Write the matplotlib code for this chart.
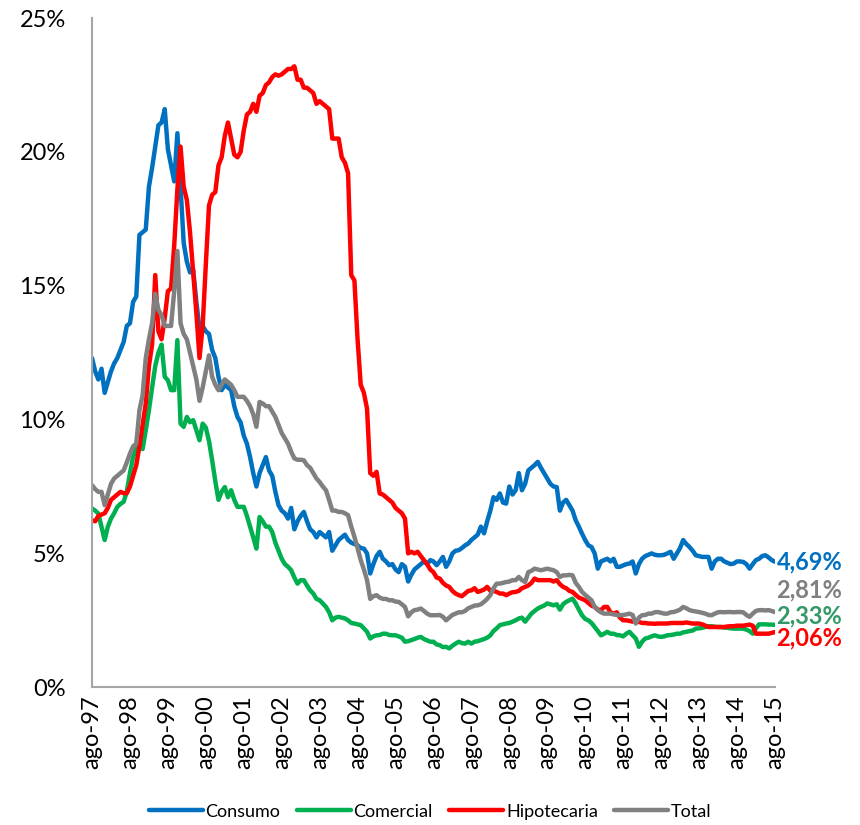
import numpy as np
import matplotlib
matplotlib.use("Agg")
import matplotlib.pyplot as plt

plt.rcParams['font.family'] = ['Lato', 'DejaVu Sans']

# monthly series, ago-97 .. ago-15 (one row per year, starting in August)
consumo = [
    12.3, 11.8, 11.5, 11.9, 11.0, 11.4, 11.8, 12.1, 12.3, 12.6, 12.9, 13.5,
    13.6, 14.4, 14.6, 16.9, 17.0, 17.1, 18.7, 19.4, 20.2, 21.0, 21.1, 21.6,
    20.1, 19.5, 18.9, 20.7, 18.7, 16.6, 15.9, 15.5, 15.6, 14.4, 13.4, 13.5,
    13.3, 13.2, 12.6, 12.3, 11.6, 11.1, 11.3, 11.2, 11.1, 10.5, 10.1, 9.9,
    9.4, 9.1, 8.6, 8.0, 7.5, 8.0, 8.3, 8.6, 8.1, 7.9, 7.3, 6.8,
    6.6, 6.5, 6.3, 6.7, 5.9, 6.2, 6.4, 6.55, 6.2, 5.9, 5.8, 5.6,
    5.8, 5.7, 5.6, 5.8, 5.1, 5.3, 5.5, 5.6, 5.7, 5.5, 5.4, 5.35,
    5.3, 5.2, 5.18, 5.0, 4.25, 4.6, 4.9, 5.06, 4.8, 4.7, 4.56, 4.6,
    4.4, 4.3, 4.6, 4.5, 3.95, 4.2, 4.4, 4.5, 4.6, 4.7, 4.6, 4.75,
    4.7, 4.56, 4.7, 4.87, 4.5, 4.7, 5.0, 5.1, 5.12, 5.2, 5.3, 5.37,
    5.5, 5.6, 5.7, 6.0, 5.75, 6.2, 6.6, 7.1, 7.0, 7.24, 6.9, 6.86,
    7.5, 7.2, 7.36, 8.0, 7.36, 7.6, 8.1, 8.2, 8.3, 8.42, 8.2, 8.0,
    7.8, 7.6, 7.5, 7.48, 6.6, 6.9, 7.0, 6.8, 6.6, 6.24, 6.0, 5.74,
    5.5, 5.3, 5.24, 5.0, 4.43, 4.7, 4.75, 4.8, 4.7, 4.8, 4.5, 4.5,
    4.55, 4.6, 4.62, 4.7, 4.25, 4.6, 4.8, 4.9, 4.95, 5.0, 4.95, 4.93,
    4.93, 4.95, 5.0, 5.06, 4.8, 5.0, 5.2, 5.5, 5.35, 5.24, 5.1, 4.93,
    4.9, 4.87, 4.87, 4.87, 4.43, 4.7, 4.8, 4.8, 4.7, 4.65, 4.6, 4.62,
    4.7, 4.7, 4.68, 4.6, 4.43, 4.6, 4.75, 4.8, 4.9, 4.93, 4.85, 4.75,
    4.69,
]

comercial = [
    6.68, 6.6, 6.49, 6.0, 5.5, 6.0, 6.3, 6.5, 6.74, 6.85, 6.93, 7.3,
    8.0, 8.6, 8.9, 9.0, 8.9, 9.6, 10.35, 11.2, 12.0, 12.5, 12.8, 11.6,
    11.47, 11.1, 11.1, 12.97, 9.85, 9.73, 10.1, 9.9, 9.98, 9.6, 9.23, 9.85,
    9.7, 9.2, 8.48, 7.7, 7.0, 7.3, 7.48, 7.1, 7.36, 7.0, 6.74, 6.74,
    6.74, 6.4, 6.0, 5.6, 5.18, 6.36, 6.2, 6.0, 6.0, 5.8, 5.4, 5.1,
    4.8, 4.6, 4.5, 4.37, 4.1, 3.87, 4.0, 4.0, 3.8, 3.62, 3.5, 3.3,
    3.25, 3.13, 3.0, 2.8, 2.5, 2.6, 2.63, 2.6, 2.57, 2.5, 2.4, 2.38,
    2.35, 2.32, 2.2, 2.07, 1.82, 1.9, 1.94, 1.95, 2.0, 2.0, 1.95, 1.94,
    1.94, 1.9, 1.85, 1.7, 1.72, 1.76, 1.8, 1.85, 1.88, 1.8, 1.75, 1.7,
    1.7, 1.6, 1.57, 1.5, 1.51, 1.45, 1.55, 1.63, 1.7, 1.65, 1.63, 1.7,
    1.63, 1.7, 1.72, 1.76, 1.8, 1.85, 1.94, 2.1, 2.2, 2.32, 2.35, 2.38,
    2.4, 2.45, 2.5, 2.57, 2.6, 2.45, 2.6, 2.75, 2.85, 2.94, 3.0, 3.05,
    3.13, 3.1, 3.06, 3.1, 2.9, 3.1, 3.19, 3.25, 3.31, 3.13, 2.9, 2.69,
    2.55, 2.5, 2.4, 2.25, 2.1, 1.94, 2.0, 2.07, 2.0, 2.0, 1.95, 1.94,
    1.9, 2.0, 2.07, 1.94, 1.82, 1.51, 1.7, 1.82, 1.85, 1.9, 1.94, 1.9,
    1.88, 1.9, 1.94, 1.95, 1.97, 2.0, 2.0, 2.05, 2.07, 2.1, 2.12, 2.19,
    2.2, 2.22, 2.25, 2.28, 2.28, 2.26, 2.25, 2.25, 2.23, 2.22, 2.2, 2.19,
    2.19, 2.19, 2.19, 2.15, 2.1, 2.0, 2.2, 2.35, 2.35, 2.35, 2.34, 2.34,
    2.33,
]

hipotecaria = [
    6.24, 6.2, 6.4, 6.45, 6.5, 6.7, 7.0, 7.1, 7.2, 7.3, 7.25, 7.25,
    7.5, 7.9, 8.3, 9.0, 9.8, 10.6, 12.0, 12.8, 15.4, 13.3, 13.0, 13.8,
    14.8, 14.9, 16.5, 18.6, 20.2, 18.7, 18.2, 17.0, 15.5, 14.0, 12.3, 13.5,
    15.8, 18.0, 18.4, 18.5, 19.5, 19.8, 20.6, 21.1, 20.5, 19.9, 19.8, 20.0,
    20.8, 21.4, 21.5, 21.8, 21.5, 22.1, 22.2, 22.5, 22.6, 22.8, 22.9, 22.85,
    22.9, 23.0, 23.1, 23.1, 23.2, 22.7, 22.7, 22.4, 22.4, 22.3, 22.2, 21.8,
    21.9, 21.8, 21.7, 21.6, 20.5, 20.5, 20.5, 19.8, 19.6, 19.2, 15.4, 15.2,
    13.0, 11.3, 11.0, 10.4, 8.0, 7.9, 8.05, 7.24, 7.2, 7.1, 7.0, 6.9,
    6.7, 6.6, 6.5, 6.3, 5.0, 5.06, 5.0, 5.06, 4.9, 4.75, 4.6, 4.4,
    4.3, 4.1, 4.06, 3.9, 3.8, 3.75, 3.6, 3.5, 3.44, 3.4, 3.5, 3.6,
    3.62, 3.7, 3.56, 3.6, 3.65, 3.75, 3.6, 3.6, 3.56, 3.5, 3.5, 3.44,
    3.5, 3.55, 3.56, 3.6, 3.7, 3.75, 3.8, 3.9, 4.06, 4.0, 4.0, 4.0,
    4.0, 4.0, 3.95, 4.0, 3.85, 3.75, 3.7, 3.6, 3.56, 3.45, 3.35, 3.3,
    3.25, 3.15, 3.05, 3.0, 2.9, 2.88, 3.0, 3.0, 2.8, 2.75, 2.8, 2.6,
    2.5, 2.5, 2.48, 2.45, 2.5, 2.44, 2.4, 2.4, 2.38, 2.38, 2.37, 2.38,
    2.38, 2.38, 2.38, 2.4, 2.4, 2.4, 2.4, 2.4, 2.42, 2.4, 2.38, 2.38,
    2.38, 2.35, 2.3, 2.25, 2.25, 2.25, 2.25, 2.25, 2.25, 2.27, 2.28, 2.28,
    2.3, 2.3, 2.3, 2.32, 2.34, 2.3, 2.0, 2.0, 2.0, 2.0, 2.0, 2.03,
    2.06,
]

total = [
    7.55, 7.4, 7.3, 7.3, 6.8, 7.2, 7.6, 7.8, 7.9, 8.0, 8.1, 8.4,
    8.73, 9.0, 9.1, 10.35, 10.9, 12.3, 13.0, 13.6, 14.7, 14.1, 13.9, 13.5,
    13.5, 13.5, 14.8, 16.3, 13.6, 13.2, 13.0, 12.5, 12.0, 11.5, 10.7, 11.2,
    11.8, 12.4, 11.6, 11.3, 11.1, 11.3, 11.5, 11.4, 11.3, 11.1, 10.85, 10.85,
    10.85, 10.7, 10.5, 10.2, 9.73, 10.66, 10.6, 10.5, 10.5, 10.3, 10.1, 9.8,
    9.5, 9.3, 9.1, 8.8, 8.55, 8.5, 8.5, 8.48, 8.3, 8.2, 8.0, 7.8,
    7.67, 7.5, 7.36, 7.0, 6.6, 6.6, 6.55, 6.55, 6.5, 6.43, 6.0, 5.62,
    5.2, 4.75, 4.4, 4.0, 3.3, 3.4, 3.44, 3.35, 3.3, 3.3, 3.25, 3.25,
    3.2, 3.19, 3.1, 3.0, 2.65, 2.8, 2.88, 2.9, 2.94, 2.85, 2.75, 2.69,
    2.69, 2.69, 2.7, 2.63, 2.5, 2.6, 2.7, 2.75, 2.8, 2.8, 2.85, 2.95,
    3.0, 3.05, 3.06, 3.1, 3.19, 3.3, 3.44, 3.7, 3.87, 3.87, 3.9, 3.93,
    3.95, 4.0, 4.0, 4.12, 4.0, 3.93, 4.3, 4.35, 4.43, 4.4, 4.37, 4.4,
    4.43, 4.4, 4.37, 4.3, 4.12, 4.18, 4.18, 4.2, 4.18, 3.9, 3.75, 3.56,
    3.45, 3.35, 3.25, 3.0, 2.88, 2.8, 2.75, 2.75, 2.75, 2.72, 2.7, 2.69,
    2.7, 2.72, 2.75, 2.7, 2.38, 2.6, 2.69, 2.7, 2.75, 2.75, 2.8, 2.81,
    2.78, 2.75, 2.75, 2.8, 2.81, 2.85, 2.9, 3.0, 2.95, 2.88, 2.85, 2.83,
    2.81, 2.78, 2.75, 2.7, 2.69, 2.75, 2.8, 2.81, 2.8, 2.81, 2.81, 2.8,
    2.81, 2.81, 2.8, 2.7, 2.63, 2.75, 2.85, 2.88, 2.88, 2.87, 2.88, 2.85,
    2.81,
]

year_labels = ['ago-97', 'ago-98', 'ago-99', 'ago-00', 'ago-01', 'ago-02',
               'ago-03', 'ago-04', 'ago-05', 'ago-06', 'ago-07', 'ago-08',
               'ago-09', 'ago-10', 'ago-11', 'ago-12', 'ago-13', 'ago-14',
               'ago-15']

names = ['Consumo', 'Comercial', 'Hipotecaria', 'Total']
colors = ['#0070C0', '#00B050', '#FF0000', '#808080']
end_text = ['4,69%', '2,81%', '2,33%', '2,06%']
end_colors = ['#0070C0', '#808080', '#339966', '#FF0000']
end_ypos = [4.68, 3.62, 2.65, 1.83]   # label placement (percent units)

fig = plt.figure(figsize=(8.6, 8.25), dpi=100)
ax = fig.add_axes([0.107, 0.167, 0.794, 0.811])

x = np.arange(len(consumo))
for s, c, n in zip([consumo, comercial, hipotecaria, total], colors, names):
    ax.plot(x, s, color=c, lw=3.2, label=n,
            solid_joinstyle='round', solid_capstyle='round')

ax.set_xlim(0, len(consumo) - 1)
ax.set_ylim(0, 25)
ax.set_yticks([0, 5, 10, 15, 20, 25])
ax.set_yticklabels(['0%', '5%', '10%', '15%', '20%', '25%'])
ax.set_xticks(np.arange(0, len(consumo), 12))
ax.set_xticklabels(year_labels, rotation=90)
ax.tick_params(axis='y', length=0, pad=19, labelsize=17)
ax.tick_params(axis='x', length=0, pad=6, labelsize=17)

for side in ['top', 'right']:
    ax.spines[side].set_visible(False)
for side in ['left', 'bottom']:
    ax.spines[side].set_color('#A6A6A6')
    ax.spines[side].set_linewidth(1.5)

for t, c, yv in zip(end_text, end_colors, end_ypos):
    ax.text(len(consumo) - 1 + 0.5, yv, t, color=c, fontsize=17,
            fontweight='bold', va='center', ha='left', clip_on=False)

fig.legend(loc='center', bbox_to_anchor=(0.5, 0.016), ncol=4,
           frameon=False, fontsize=13, handlelength=3.0,
           handletextpad=0.15, columnspacing=0.9)

fig.savefig('out.png', dpi=100)
